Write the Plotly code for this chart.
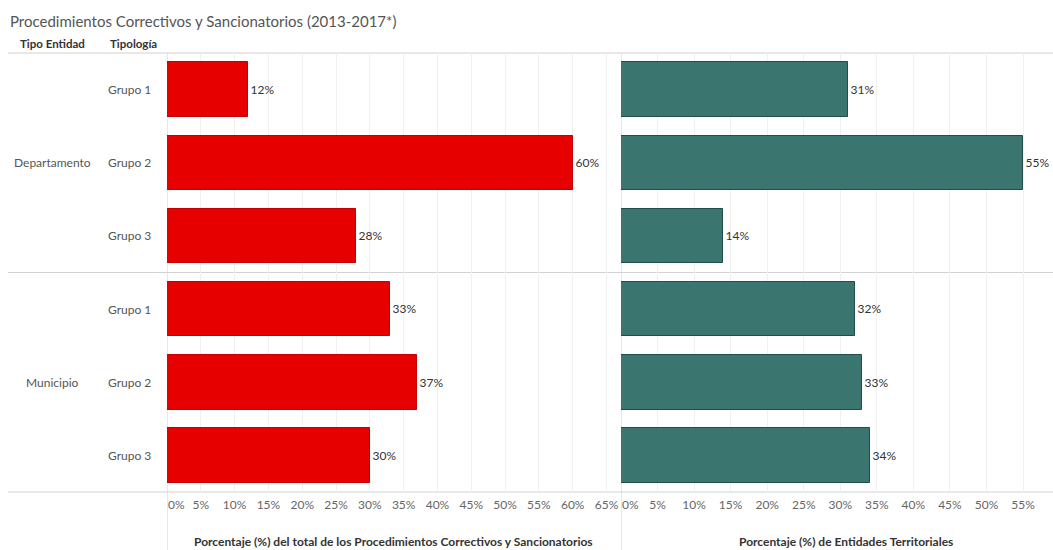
import plotly.graph_objects as go

# Data
tipo_entidad = ["Departamento", "Departamento", "Departamento", "Municipio", "Municipio", "Municipio"]
tipologia = ["Grupo 1", "Grupo 2", "Grupo 3", "Grupo 1", "Grupo 2", "Grupo 3"]
pct_procedimientos = [12, 60, 28, 33, 37, 30]
pct_entidades = [31, 55, 14, 32, 33, 34]

left_ticks = [0, 5, 10, 15, 20, 25, 30, 35, 40, 45, 50, 55, 60, 65]
right_ticks = [0, 5, 10, 15, 20, 25, 30, 35, 40, 45, 50, 55, 60]

title_text = "Procedimientos Correctivos y Sancionatorios (2013-2017*)"
header_labels = ["Tipo Entidad", "Tipología"]
left_axis_title = "Porcentaje (%) del total de los Procedimientos Correctivos y Sancionatorios"
right_axis_title = "Porcentaje (%) de Entidades Territoriales"

FONT = "Lato"
W, H = 1053, 550
M_T, M_B = 53, 58
PLOT_H = H - M_T - M_B
TICK_Y = 504

RED, RED_EDGE = "#e60000", "#c40000"
TEAL, TEAL_EDGE = "#3a756f", "#1f4d48"

row_keys = [f"{t} · {g}" for t, g in zip(tipo_entidad, tipologia)]

fig = go.Figure()

fig.add_trace(go.Bar(
    x=pct_procedimientos, y=row_keys, orientation="h",
    marker=dict(color=RED, line=dict(color=RED_EDGE, width=1)),
    width=0.745,
    text=[f"{v}%" for v in pct_procedimientos], textposition="outside",
    textfont=dict(family=FONT, size=12, color="#333333"),
    constraintext="none", cliponaxis=False,
    xaxis="x", yaxis="y", hoverinfo="skip",
))
fig.add_trace(go.Bar(
    x=pct_entidades, y=row_keys, orientation="h",
    marker=dict(color=TEAL, line=dict(color=TEAL_EDGE, width=1)),
    width=0.745,
    text=[f"{v}%" for v in pct_entidades], textposition="outside",
    textfont=dict(family=FONT, size=12, color="#333333"),
    constraintext="none", cliponaxis=False,
    xaxis="x2", yaxis="y", hoverinfo="skip",
))

tick_font = dict(family=FONT, size=12, color="#666666")
axis_common = dict(
    showgrid=True, gridcolor="#f0f0f0", gridwidth=1,
    zeroline=False, showline=False, ticks="", tickfont=tick_font, fixedrange=True,
    ticklabelstandoff=4,
)

fig.update_layout(
    width=W, height=H,
    margin=dict(l=0, r=0, t=M_T, b=M_B),
    paper_bgcolor="white", plot_bgcolor="white",
    showlegend=False,
    bargap=0,
    font=dict(family=FONT),
    xaxis=dict(
        domain=[167 / W, 618 / W], range=[0, 66.7],
        tickvals=left_ticks,
        ticktext=["" if v == 0 else f"{v}%" for v in left_ticks],
        **axis_common,
    ),
    xaxis2=dict(
        domain=[621 / W, 1.0], range=[0, 59.1],
        tickvals=right_ticks,
        ticktext=["" if v == 0 else f"{v}%" for v in right_ticks],
        anchor="y",
        **axis_common,
    ),
    yaxis=dict(
        categoryorder="array", categoryarray=row_keys,
        autorange="reversed", showticklabels=False, showgrid=False,
        zeroline=False, showline=False, ticks="", fixedrange=True,
    ),
)

below = -M_B / PLOT_H
shapes = []
# zero lines running down through the axis area
for xr in ("x", "x2"):
    shapes.append(dict(type="line", xref=xr, yref="paper", x0=0, x1=0, y0=below, y1=1,
                       line=dict(color="#d2d2d2", width=1), layer="below"))
# row separators
for yp in (1.0, 0.5, 0.0):
    shapes.append(dict(type="line", xref="paper", yref="paper", x0=8 / W, x1=1, y0=yp, y1=yp,
                       line=dict(color="#d2d2d2", width=1), layer="below"))
fig.update_layout(shapes=shapes)

ann = []
# title
ann.append(dict(text=title_text, xref="paper", yref="paper", x=8 / W, y=1 + (M_T - 21) / PLOT_H,
                xanchor="left", yanchor="middle", showarrow=False,
                font=dict(family=FONT, size=15, color="#555555")))
# column headers
for label, xpix in zip(header_labels, (18, 108)):
    ann.append(dict(text=f"<b>{label}</b>", xref="paper", yref="paper", x=xpix / W,
                    y=1 + (M_T - 43) / PLOT_H, xanchor="left", yanchor="middle", showarrow=False,
                    font=dict(family=FONT, size=11.5, color="#333333")))
# row labels
for key, g in zip(row_keys, tipologia):
    ann.append(dict(text=g, xref="paper", yref="y", x=153 / W, y=key,
                    xanchor="right", yanchor="middle", showarrow=False,
                    font=dict(family=FONT, size=12, color="#555555")))
seen = []
for t in tipo_entidad:
    if t in seen:
        continue
    seen.append(t)
    idx = [i for i, v in enumerate(tipo_entidad) if v == t]
    mid = row_keys[idx[len(idx) // 2]]
    ann.append(dict(text=t, xref="paper", yref="y", x=52 / W, y=mid,
                    xanchor="center", yanchor="middle", showarrow=False,
                    font=dict(family=FONT, size=12, color="#555555")))
# first tick label sits right of the zero line
for xr, v in (("x", left_ticks[0]), ("x2", right_ticks[0])):
    ann.append(dict(text=f"{v}%", xref=xr, yref="paper", x=v, y=1 - (TICK_Y - M_T) / PLOT_H,
                    xanchor="left", yanchor="middle", showarrow=False, xshift=-1,
                    font=tick_font))
# axis titles
ann.append(dict(text=f"<b>{left_axis_title}</b>", xref="paper", yref="paper", x=393 / W,
                y=-(541 - (H - M_B)) / PLOT_H, xanchor="center", yanchor="middle", showarrow=False,
                font=dict(family=FONT, size=12, color="#333333")))
ann.append(dict(text=f"<b>{right_axis_title}</b>", xref="paper", yref="paper", x=846 / W,
                y=-(541 - (H - M_B)) / PLOT_H, xanchor="center", yanchor="middle", showarrow=False,
                font=dict(family=FONT, size=12, color="#333333")))
fig.update_layout(annotations=ann)

fig.write_html("out.html")
